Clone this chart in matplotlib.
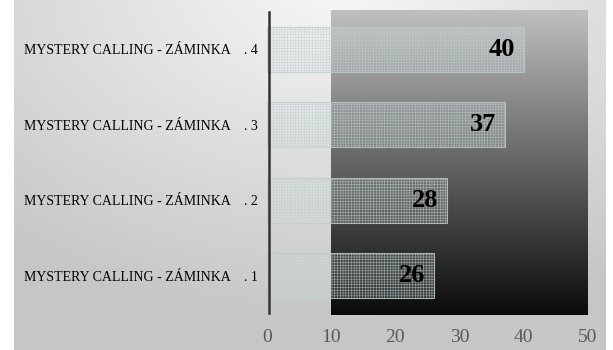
import numpy as np
import matplotlib
matplotlib.use("Agg")
import matplotlib.pyplot as plt

plt.rcParams["font.family"] = ["Liberation Serif", "DejaVu Serif"]

categories = ["MYSTERY CALLING - ZÁMINKA    . 1",
              "MYSTERY CALLING - ZÁMINKA    . 2",
              "MYSTERY CALLING - ZÁMINKA    . 3",
              "MYSTERY CALLING - ZÁMINKA    . 4"]
values = [26, 28, 37, 40]
xticks = [0, 10, 20, 30, 40, 50]

W, H, DPI = 613, 350, 100
fig = plt.figure(figsize=(W / DPI, H / DPI), dpi=DPI)
fig.patch.set_facecolor("white")

# background panel with soft radial gradient
bg = fig.add_axes([14 / W, 0, (606 - 14) / W, 1], zorder=-10)
yy, xx = np.mgrid[0:1:200j, 0:1:300j]
d = np.sqrt(((xx - 0.55) * 1.0) ** 2 + ((yy - 1.05) * 0.9) ** 2)
val = np.clip(0.97 - 0.22 * d, 0.78, 0.97)
bg.imshow(np.dstack([val, val, val]), extent=[0, 1, 0, 1], origin="lower",
          aspect="auto", interpolation="bicubic")
bg.set_axis_off()

ax_l, ax_r = 267, 588
ax_t, ax_b = 10, 315
ax = fig.add_axes([ax_l / W, 1 - ax_b / H, (ax_r - ax_l) / W, (ax_b - ax_t) / H])
ax.patch.set_alpha(0)
ylo, yhi = -0.52, 3.52
ax.set_xlim(0, 50)
ax.set_ylim(ylo, yhi)

# dark vertical gradient plot area from x=10 to 50
g = np.linspace(0.04, 0.75, 256).reshape(-1, 1)
ax.imshow(np.dstack([g, g, g]), extent=[10, 50, ylo, yhi], origin="lower",
          aspect="auto", zorder=0, interpolation="bicubic")

plt.rcParams["hatch.linewidth"] = 0.35
plt.rcParams["hatch.color"] = (0.66, 0.78, 0.78, 0.6)
ypos = np.arange(len(categories))
bars = ax.barh(ypos, values, height=0.6, color=(0.86, 0.92, 0.92, 0.18),
               edgecolor=(0.75, 0.8, 0.8, 0.8), linewidth=0.8, hatch="++++++",
               zorder=2)

for y, v in zip(ypos, values):
    ax.annotate(str(v), (v, y), xytext=(-6, 0), textcoords="offset points",
                ha="right", va="center", fontsize=19, fontweight="bold",
                color="black", zorder=3)

ax.set_yticks(ypos)
ax.set_yticklabels(categories, fontsize=9, color="#474747")
ax.set_xticks(xticks)
ax.set_xticklabels([str(t) for t in xticks], fontsize=14, color="#595959")
ax.tick_params(axis="both", length=0)
ax.tick_params(axis="y", pad=8)
ax.tick_params(axis="x", pad=10)
for s in ["top", "right", "bottom"]:
    ax.spines[s].set_visible(False)
ax.spines["left"].set_color("#333333")
ax.spines["left"].set_linewidth(1.8)
ax.spines["left"].set_position(("data", 0.3))
ax.spines["left"].set_bounds(ylo + 0.03, yhi - 0.03)

fig.savefig("out.png", dpi=DPI)
